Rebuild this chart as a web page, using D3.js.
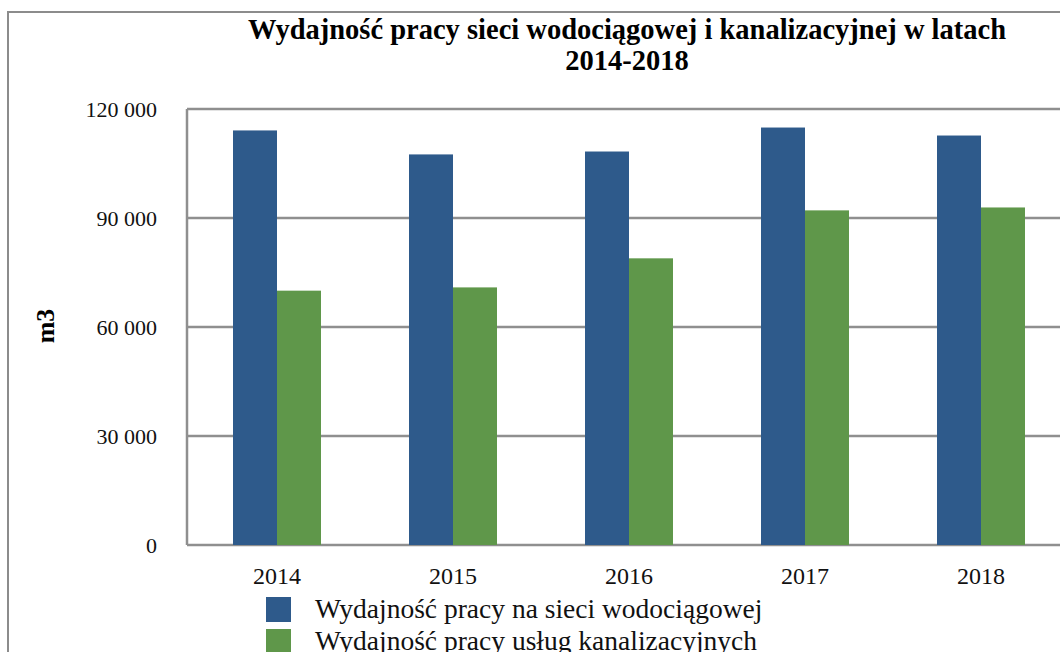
<!DOCTYPE html>
<html>
<head>
<meta charset="utf-8">
<script src="https://cdn.jsdelivr.net/npm/d3@7"></script>
<style>
  body { margin: 0; background: #fff; }
  svg { display: block; }
</style>
</head>
<body>
<div id="vis"></div>
<script>
// dane z wykresu
const years = ['2014', '2015', '2016', '2017', '2018'];
const waterValues = [114100, 107500, 108300, 114900, 112700];
const sewageValues = [70000, 70900, 78900, 92100, 92900];
const seriesNames = [
  'Wydajność pracy na sieci wodociągowej',
  'Wydajność pracy usług kanalizacyjnych',
];
const seriesColors = ['#2e5a8b', '#5f974a'];
const yTicks = [0, 30000, 60000, 90000, 120000];

const WIDTH = 1060;
const HEIGHT = 652;
const PLOT = { left: 189, right: 1069, top: 109, bottom: 545 };
const SERIF = "'Liberation Serif', 'DejaVu Serif', serif";

const svg = d3.select('#vis').append('svg')
  .attr('width', WIDTH)
  .attr('height', HEIGHT);

// ramka
svg.append('path')
  .attr('d', `M8,${HEIGHT} L8,12 L${WIDTH},12`)
  .attr('fill', 'none')
  .attr('stroke', '#8c8c8c')
  .attr('stroke-width', 2);

const x = d3.scaleBand()
  .domain(years)
  .range([PLOT.left, PLOT.right])
  .paddingInner(0.5)
  .paddingOuter(0.25);

const xSub = d3.scaleBand()
  .domain([0, 1])
  .range([0, x.bandwidth()]);

const y = d3.scaleLinear()
  .domain([0, 120000])
  .range([PLOT.bottom, PLOT.top]);

const fmt = (v) => d3.format(',')(v).replace(/,/g, ' ');

// siatka
svg.append('g')
  .selectAll('line')
  .data(yTicks)
  .join('line')
  .attr('x1', PLOT.left - 2)
  .attr('x2', WIDTH)
  .attr('y1', (d) => y(d))
  .attr('y2', (d) => y(d))
  .attr('stroke', '#8f8f8f')
  .attr('stroke-width', 2.5);

svg.append('line')
  .attr('x1', PLOT.left - 2)
  .attr('x2', PLOT.left - 2)
  .attr('y1', PLOT.top)
  .attr('y2', PLOT.bottom)
  .attr('stroke', '#8f8f8f')
  .attr('stroke-width', 2.5);

// słupki
const series = [waterValues, sewageValues];
series.forEach((vals, si) => {
  svg.append('g')
    .selectAll('rect')
    .data(vals)
    .join('rect')
    .attr('x', (d, i) => x(years[i]) + xSub(si))
    .attr('y', (d) => y(d))
    .attr('width', xSub.bandwidth())
    .attr('height', (d) => y(0) - y(d))
    .attr('fill', seriesColors[si]);
});

// oś Y
svg.append('g')
  .selectAll('text')
  .data(yTicks)
  .join('text')
  .attr('x', 157)
  .attr('y', (d) => y(d))
  .attr('dy', '0.35em')
  .attr('text-anchor', 'end')
  .attr('font-family', SERIF)
  .attr('font-size', 22)
  .attr('fill', '#111')
  .text((d) => fmt(d));

// oś X
svg.append('g')
  .selectAll('text')
  .data(years)
  .join('text')
  .attr('x', (d) => x(d) + x.bandwidth() / 2)
  .attr('y', 584)
  .attr('text-anchor', 'middle')
  .attr('font-family', SERIF)
  .attr('font-size', 24)
  .attr('fill', '#111')
  .text((d) => d);

// tytuł osi
svg.append('text')
  .attr('transform', 'translate(54,326) rotate(-90)')
  .attr('text-anchor', 'middle')
  .attr('font-family', SERIF)
  .attr('font-weight', 'bold')
  .attr('font-size', 26)
  .text('m3');

// tytuł
const title = svg.append('text')
  .attr('text-anchor', 'middle')
  .attr('font-family', SERIF)
  .attr('font-weight', 'bold')
  .attr('font-size', 28.5)
  .attr('fill', '#000');
title.append('tspan').attr('x', 627).attr('y', 39)
  .text('Wydajność pracy sieci wodociągowej i kanalizacyjnej w latach');
title.append('tspan').attr('x', 627).attr('y', 70)
  .text('2014-2018');

// legenda
const legend = svg.append('g')
  .selectAll('g')
  .data(seriesNames)
  .join('g')
  .attr('transform', (d, i) => `translate(266,${597 + i * 32})`);

legend.append('rect')
  .attr('width', 25)
  .attr('height', 25)
  .attr('fill', (d, i) => seriesColors[i]);

legend.append('text')
  .attr('x', 49)
  .attr('y', 21)
  .attr('font-family', SERIF)
  .attr('font-size', 27.5)
  .attr('fill', '#111')
  .text((d) => d);
</script>
</body>
</html>
